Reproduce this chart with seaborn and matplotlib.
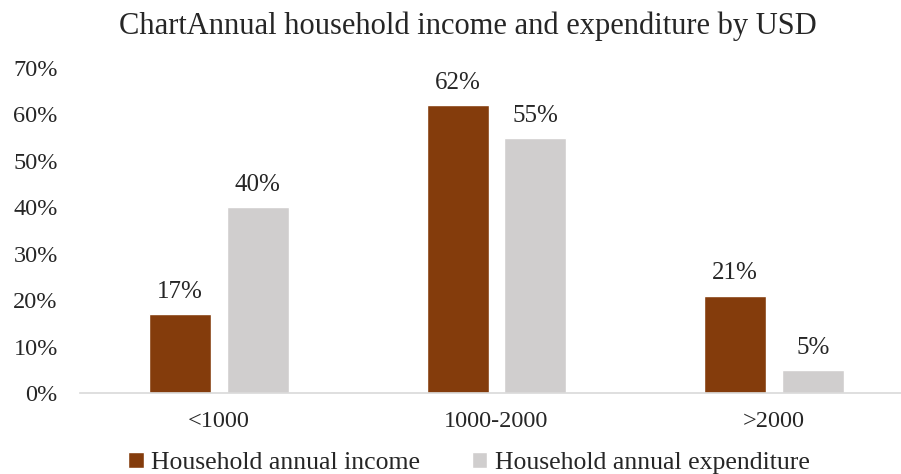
# household income vs expenditure by USD bracket

import numpy as np
import pandas as pd
import seaborn as sns
import matplotlib.pyplot as plt

brackets = ['<1000', '1000-2000', '>2000']
income = [0.17, 0.62, 0.21]
expenditure = [0.40, 0.55, 0.05]
series = ['Household annual income', 'Household annual expenditure']

df = pd.DataFrame({
    'bracket': brackets * 2,
    'share': income + expenditure,
    'series': [series[0]] * 3 + [series[1]] * 3,
})

sns.set_style('white')
plt.rcParams['font.family'] = ['Liberation Serif', 'DejaVu Serif']
txt = '#262626'

fig = plt.figure(figsize=(9.01, 4.74), dpi=100)
ax = fig.add_axes([80 / 901, 1 - 393 / 474, 833 / 901, 325 / 474])

sns.barplot(data=df, x='bracket', y='share', hue='series', order=brackets,
            hue_order=series, palette=['#843C0C', '#D0CECE'], saturation=1,
            width=0.56, gap=0.2, ax=ax)

for c in ax.containers:
    ax.bar_label(c, labels=[f'{v*100:.0f}%' for v in c.datavalues],
                 padding=8, fontsize=18, color=txt)

ax.set_ylim(0, 0.7)
ax.set_yticks(np.arange(0, 0.71, 0.1))
ax.set_yticklabels([f'{int(round(t*100))}%' for t in np.arange(0, 0.71, 0.1)])
ax.tick_params(axis='both', labelsize=17.5, colors=txt, length=0)
ax.tick_params(axis='x', pad=13)
ax.tick_params(axis='y', pad=16)
ax.set_xlabel('')
ax.set_ylabel('')
for s in ['top', 'right', 'left']:
    ax.spines[s].set_visible(False)
ax.spines['bottom'].set_color('#d9d9d9')
ax.spines['bottom'].set_linewidth(1.2)

ax.legend(loc='center', bbox_to_anchor=(389 / 833, -0.215), ncol=2, frameon=False,
          fontsize=18.5, handlelength=0.6, handleheight=0.6, handletextpad=0.3,
          columnspacing=2.0, labelcolor=txt)

fig.text(468 / 901, 1 - 26 / 474, 'ChartAnnual household income and expenditure by USD',
         ha='center', va='center', fontsize=22, color=txt)

fig.savefig('out.png', dpi=100)
